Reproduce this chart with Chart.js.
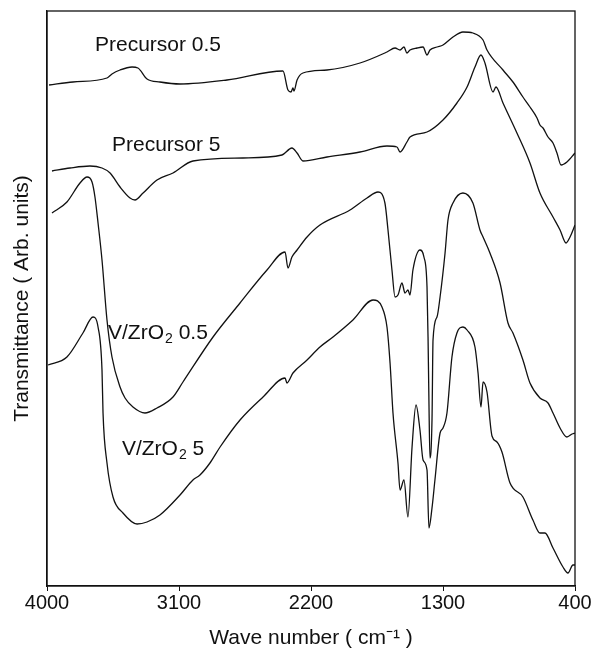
<!DOCTYPE html>
<html>
<head>
<meta charset="utf-8">
<script src="https://cdn.jsdelivr.net/npm/chart.js@4.4.1/dist/chart.umd.min.js"></script>
<style>
  body { margin: 0; background: #fff; }
  #wrap { width: 597px; height: 652px; }
</style>
</head>
<body>
<div id="wrap"><canvas id="irChart"></canvas></div>
<script>
// x axis tick labels (wave number, cm-1)
const waveTicks = [4000, 3100, 2200, 1300, 400];

// Precursor 0.5
const p05Wave = [3986, 3823, 3591, 3557, 3502, 3420, 3380, 3318, 3230, 3093, 2773, 2391, 2357, 2336, 2323, 2316, 2295, 2255, 2091, 1866, 1682, 1627, 1593, 1566, 1546, 1525, 1477, 1436, 1409, 1389, 1341, 1300, 1232, 1164, 1096, 1027, 1000, 891, 823, 755, 707, 659, 639, 618, 584, 550, 523, 495, 455, 400];
const p05T = [100.2, 100.8, 101.6, 102.4, 103.2, 103.8, 103.6, 101.4, 100.8, 100.4, 101.2, 103, 99.2, 98.8, 99.6, 99, 101.2, 102.6, 103.2, 104.6, 106.8, 107.6, 107.2, 107.8, 106.6, 107.2, 107.6, 107.8, 106.2, 107.2, 107.8, 108.2, 109.8, 110.8, 110.6, 109.2, 107.2, 103.2, 100.8, 97.8, 95.8, 93.6, 92.2, 91.6, 89.8, 88.6, 86.6, 84.2, 84.8, 86.6];

// Precursor 5
const p5Wave = [3966, 3843, 3707, 3625, 3570, 3502, 3434, 3400, 3345, 3250, 3141, 3005, 2664, 2398, 2330, 2295, 2255, 2091, 1866, 1682, 1614, 1593, 1546, 1525, 1409, 1300, 1205, 1136, 1082, 1041, 1014, 959, 939, 891, 796, 707, 639, 550, 502, 461, 434, 400];
const p5T = [83, 83.6, 84, 83.6, 82.6, 79.8, 77.6, 77.2, 78.6, 81.2, 82.6, 85, 85.6, 86.2, 87.6, 86.6, 85, 85.8, 86.8, 88, 87.8, 86.8, 88.8, 89.8, 90.8, 93.2, 96.6, 99.8, 103.8, 106.2, 104.6, 98.8, 99.8, 96.6, 90.6, 84.6, 78.6, 73.8, 71.2, 68.6, 69.8, 72.2];

// V/ZrO2 0.5
const v05Wave = [3966, 3864, 3775, 3727, 3693, 3673, 3652, 3625, 3591, 3557, 3502, 3468, 3414, 3332, 3250, 3141, 3073, 2868, 2684, 2500, 2377, 2357, 2330, 2295, 2227, 2139, 1934, 1818, 1743, 1696, 1675, 1648, 1627, 1607, 1580, 1559, 1539, 1525, 1505, 1457, 1430, 1409, 1402, 1396, 1389, 1375, 1368, 1341, 1320, 1286, 1266, 1232, 1164, 1096, 1048, 1027, 980, 911, 857, 823, 755, 707, 639, 584, 550, 502, 455, 420, 400];
const v05T = [74.6, 76.8, 80.6, 81.8, 80.8, 77.8, 72.6, 65.2, 53.2, 45.8, 39.8, 37.6, 35.8, 34.6, 35.6, 37.8, 40.8, 49.8, 56.6, 63.2, 66.8, 63.6, 65.8, 67.2, 69.8, 72.2, 75.2, 77.6, 78.8, 76.6, 71.2, 63.2, 57.8, 58.2, 60.6, 58.6, 59.2, 58.2, 63.2, 67.2, 65.8, 59.8, 49.8, 37.2, 25.6, 33.2, 49.2, 53.8, 57.8, 66.6, 73.2, 76.6, 78.6, 76.6, 71.2, 69.8, 66.6, 60.6, 52.6, 50.6, 45.2, 40.6, 37.6, 36.6, 34.6, 31.6, 29.8, 30.4, 30.6];

// V/ZrO2 5
const v5Wave = [3993, 3864, 3755, 3686, 3652, 3625, 3618, 3591, 3550, 3482, 3386, 3318, 3230, 3093, 3005, 2957, 2889, 2820, 2684, 2527, 2377, 2364, 2323, 2227, 2139, 2050, 1914, 1777, 1716, 1682, 1661, 1641, 1607, 1593, 1566, 1539, 1511, 1484, 1457, 1436, 1409, 1396, 1375, 1355, 1320, 1300, 1273, 1239, 1205, 1164, 1136, 1082, 1061, 1041, 1027, 1000, 966, 932, 898, 843, 755, 687, 639, 605, 550, 482, 448, 414, 400];
const v5T = [44.2, 45.8, 50.6, 53.8, 51.8, 43.2, 34.6, 24.6, 17.8, 14.6, 12.4, 12.8, 14.2, 18.2, 21.2, 22.2, 24.6, 27.8, 33.2, 37.8, 41.6, 40.6, 42.6, 45.2, 47.8, 49.8, 53.2, 57.2, 55.8, 51.8, 44.6, 34.6, 24.6, 19.2, 21.2, 13.8, 27.8, 36.2, 31.2, 25.2, 23.2, 11.6, 15.6, 21.2, 30.6, 31.6, 34.6, 45.8, 50.6, 51.8, 51.2, 47.8, 42.6, 35.8, 40.8, 38.8, 30, 28.8, 26.8, 20.6, 17.8, 13.2, 10.6, 10.6, 7.6, 3.8, 2.6, 4.2, 4.2];

// curve labels, placed at (wave number, transmittance)
const curveLabels = [
    { main: 'Precursor 0.5', sub: '', rest: '', wave: 3673, t: 108.2 },
    { main: 'Precursor 5', sub: '', rest: '', wave: 3557, t: 88.2 },
    { main: 'V/ZrO', sub: '2', rest: ' 0.5', wave: 3584, t: 50.6 },
    { main: 'V/ZrO', sub: '2', rest: ' 5', wave: 3489, t: 27.4 }
];

const FONT = '"Liberation Sans", Arial, Helvetica, sans-serif';

function toPoints(waves, values) {
    return waves.map((w, i) => ({ x: w, y: values[i] }));
}

function lineSet(label, waves, values) {
    return {
        label: label,
        data: toPoints(waves, values),
        borderColor: '#111',
        borderWidth: 1.3,
        pointRadius: 0,
        fill: false,
        cubicInterpolationMode: 'monotone'
    };
}

const labelPlugin = {
    id: 'curveLabels',
    afterDatasetsDraw(chart) {
        const ctx = chart.ctx;
        const xs = chart.scales.x;
        const ys = chart.scales.y;
        ctx.save();
        ctx.fillStyle = '#111';
        ctx.textBaseline = 'middle';
        ctx.textAlign = 'left';
        curveLabels.forEach(lab => {
            let px = xs.getPixelForValue(lab.wave);
            const py = ys.getPixelForValue(lab.t);
            ctx.font = '21px ' + FONT;
            ctx.fillText(lab.main, px, py);
            px += ctx.measureText(lab.main).width;
            if (lab.sub) {
                ctx.font = '14px ' + FONT;
                ctx.fillText(lab.sub, px + 1, py + 6);
                px += ctx.measureText(lab.sub).width + 1;
            }
            if (lab.rest) {
                ctx.font = '21px ' + FONT;
                ctx.fillText(lab.rest, px, py);
            }
        });
        ctx.restore();
    }
};

const framePlugin = {
    id: 'frame',
    afterDraw(chart) {
        const a = chart.chartArea;
        const ctx = chart.ctx;
        ctx.save();
        ctx.strokeStyle = '#111';
        ctx.lineWidth = 1.3;
        ctx.strokeRect(a.left, a.top, a.right - a.left, a.bottom - a.top);
        ctx.restore();
    }
};

new Chart(document.getElementById('irChart'), {
    type: 'line',
    data: {
        datasets: [
            lineSet('Precursor 0.5', p05Wave, p05T),
            lineSet('Precursor 5', p5Wave, p5T),
            lineSet('V/ZrO2 0.5', v05Wave, v05T),
            lineSet('V/ZrO2 5', v5Wave, v5T)
        ]
    },
    options: {
        responsive: true,
        maintainAspectRatio: false,
        animation: false,
        layout: { padding: { top: 11, right: 22, left: 0, bottom: 0 } },
        plugins: {
            legend: { display: false },
            tooltip: { enabled: false }
        },
        scales: {
            x: {
                type: 'linear',
                reverse: true,
                min: 400,
                max: 4000,
                afterBuildTicks: scale => {
                    scale.ticks = waveTicks.map(v => ({ value: v }));
                },
                afterFit: scale => { scale.height = 66; },
                grid: {
                    display: true,
                    drawOnChartArea: false,
                    drawTicks: true,
                    tickLength: 5,
                    color: '#111'
                },
                border: { display: true, color: '#111', width: 1.3 },
                ticks: {
                    color: '#111',
                    font: { family: FONT, size: 20 },
                    padding: 0,
                    maxRotation: 0,
                    callback: v => String(v)
                },
                title: {
                    display: true,
                    text: 'Wave number ( cm\u207B\u00B9 )',
                    color: '#111',
                    font: { family: FONT, size: 21 },
                    padding: { top: 0, bottom: 1 }
                }
            },
            y: {
                min: 0,
                max: 115,
                afterFit: scale => { scale.width = 47; },
                grid: { display: false },
                border: { display: true, color: '#111', width: 1.3 },
                ticks: { display: false },
                title: {
                    display: true,
                    text: 'Transmittance ( Arb. units)',
                    color: '#111',
                    font: { family: FONT, size: 21 },
                    padding: { top: 10, bottom: 0 }
                }
            }
        }
    },
    plugins: [labelPlugin, framePlugin]
});
</script>
</body>
</html>
